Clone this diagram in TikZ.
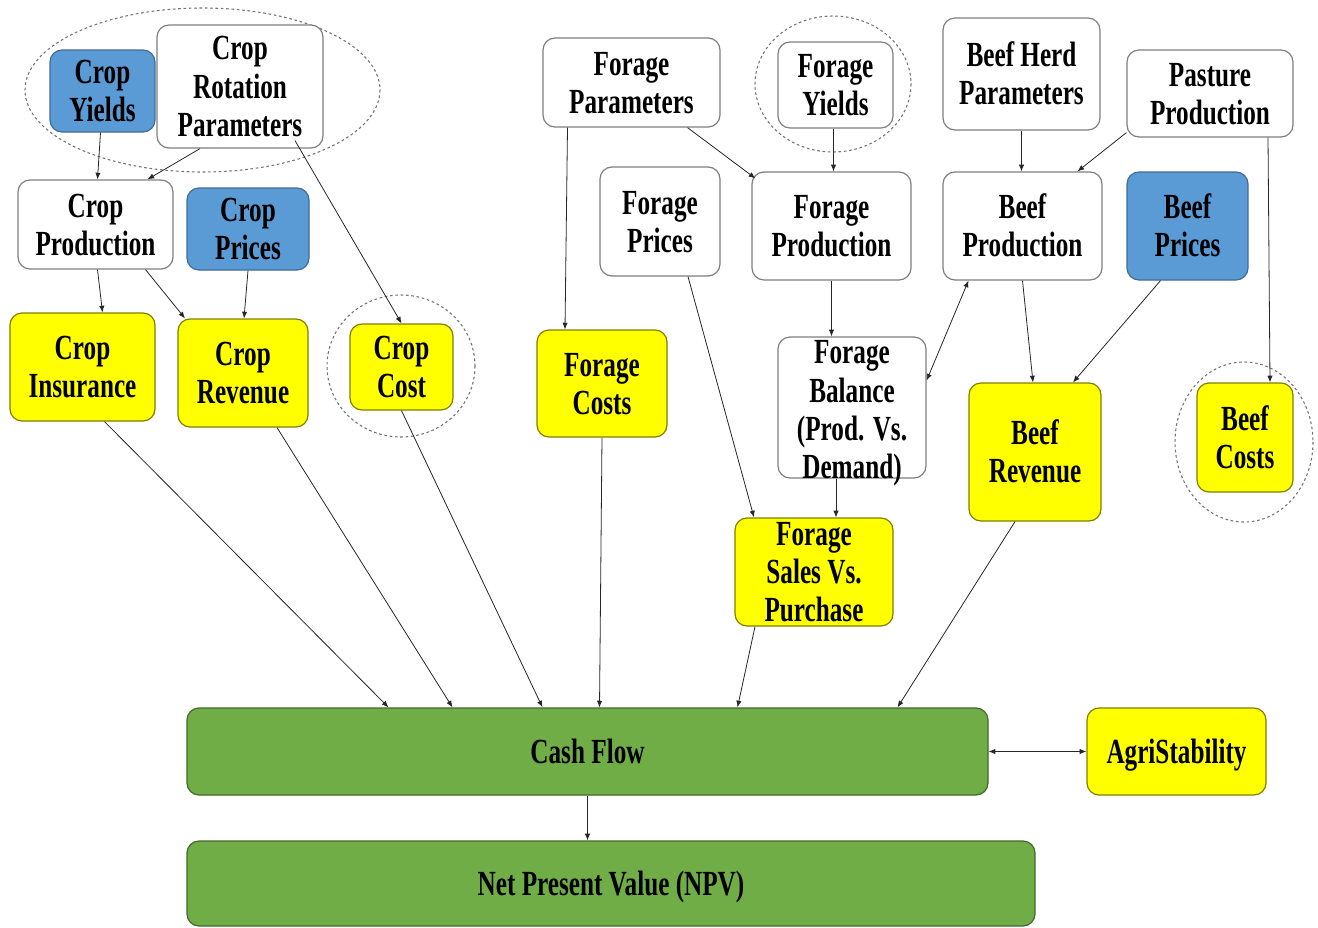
\documentclass[tikz,border=0pt]{standalone}
\usepackage{fontspec}
\setmainfont{Liberation Serif}
\usepackage{graphicx}
\usetikzlibrary{fit,arrows.meta}
\def\u{0.75pt}
\newcommand\tx[1]{\scalebox{1}[1.4]{\begin{tabular}{@{}c@{}}#1\end{tabular}}}
\definecolor{bluebox}{HTML}{5B9BD5}
\definecolor{yellowbox}{HTML}{FFFF00}
\definecolor{greenbox}{HTML}{70AD47}
\definecolor{edgegray}{HTML}{7F7F7F}
\begin{document}
\begin{tikzpicture}[x=0.75pt,y=-0.75pt,
  base/.style={draw=edgegray, line width=0.9pt, rounded corners=9pt, inner sep=0pt},
  wbox/.style={base, fill=white},
  bbox/.style={base, draw=bluebox!70!black, fill=bluebox},
  ybox/.style={base, draw=yellowbox!50!black, fill=yellowbox},
  gbox/.style={base, draw=greenbox!60!black, fill=greenbox},
  txt/.style={font=\bfseries\fontsize{18.9}{20.5}\selectfont, inner sep=0pt, text=black, yshift=-4*\u},
  arr/.style={-{Latex[length=5pt,width=4pt]}, line width=0.6pt, draw=black!85},
  darr/.style={{Latex[length=5pt,width=4pt]}-{Latex[length=5pt,width=4pt]}, line width=0.6pt, draw=black!85},
  ring/.style={draw=black!55, dashed, dash pattern=on 2pt off 2pt, line width=0.8pt}
]
\useasboundingbox (0,0) rectangle (1318,928);

% dashed groupings
\draw[ring] (202.5,90) ellipse [x radius=177.5, y radius=82];

% crop side
\node[bbox, fit={(50,50) (155,132)}] (cy) {};
\node[txt] (cyT) at (cy.center) {\tx{Crop\\Yields}};
\node[wbox, fit={(157,25) (323,148)}] (crp) {};
\node[txt] (crpT) at (crp.center) {\tx{Crop\\Rotation\\Parameters}};
\node[wbox, fit={(18,180) (173,269)}] (cp) {};
\node[txt] (cpT) at (cp.center) {\tx{Crop\\Production}};
\node[bbox, fit={(187,188) (309,270)}] (cpr) {};
\node[txt] (cprT) at (cpr.center) {\tx{Crop\\Prices}};
\node[ybox, fit={(10,313) (155,421)}] (ci) {};
\node[txt] (ciT) at (ci.center) {\tx{Crop\\Insurance}};
\node[ybox, fit={(178,319) (308,427)}] (cr) {};
\node[txt] (crT) at (cr.center) {\tx{Crop\\Revenue}};
\draw[ring] (401,366) ellipse [x radius=74, y radius=71];
\node[ybox, fit={(350,324) (453,410)}] (cc) {};
\node[txt] (ccT) at (cc.center) {\tx{Crop\\Cost}};

% forage side
\node[wbox, fit={(543,38) (720,127)}] (fp) {};
\node[txt] (fpT) at (fp.center) {\tx{Forage\\Parameters}};
\draw[ring] (833,84) ellipse [x radius=78, y radius=68];
\node[wbox, fit={(778,42) (893,128)}] (fy) {};
\node[txt] (fyT) at (fy.center) {\tx{Forage\\Yields}};
\node[wbox, fit={(600,167) (720,276)}] (fpri) {};
\node[txt] (fpriT) at (fpri.center) {\tx{Forage\\Prices}};
\node[wbox, fit={(752,172) (911,280)}] (fpr) {};
\node[txt] (fprT) at (fpr.center) {\tx{Forage\\Production}};
\node[ybox, fit={(537,330) (667,437)}] (fc) {};
\node[txt] (fcT) at (fc.center) {\tx{Forage\\Costs}};
\node[wbox, fit={(778,337) (926,478)}] (fb) {};
\node[txt] (fbT) at ([yshift=-2*\u]fb.center) {\tx{Forage\\Balance\\(Prod. Vs.\\Demand)}};
\node[ybox, fit={(735,518) (893,626)}] (fs) {};
\node[txt] (fsT) at (fs.center) {\tx{Forage\\Sales Vs.\\Purchase}};

% beef side
\node[wbox, fit={(943,18) (1100,130)}] (bh) {};
\node[txt] (bhT) at (bh.center) {\tx{Beef Herd\\Parameters}};
\node[wbox, fit={(1127,50) (1293,137)}] (pp) {};
\node[txt] (ppT) at (pp.center) {\tx{Pasture\\Production}};
\node[wbox, fit={(943,172) (1102,280)}] (bp) {};
\node[txt] (bpT) at (bp.center) {\tx{Beef\\Production}};
\node[bbox, fit={(1127,172) (1248,280)}] (bpr) {};
\node[txt] (bprT) at (bpr.center) {\tx{Beef\\Prices}};
\node[ybox, fit={(969,383) (1101,521)}] (br) {};
\node[txt] (brT) at (br.center) {\tx{Beef\\Revenue}};
\draw[ring] (1244,442) ellipse [x radius=69, y radius=80];
\node[ybox, fit={(1197,383) (1293,492)}] (bc) {};
\node[txt] (bcT) at (bc.center) {\tx{Beef\\Costs}};

% bottom
\node[gbox, fit={(187,708) (988,795)}] (cf) {};
\node[txt] (cfT) at (cf.center) {\tx{Cash Flow}};
\node[ybox, fit={(1087,708) (1266,795)}] (ag) {};
\node[txt] (agT) at (ag.center) {\tx{AgriStability}};
\node[gbox, fit={(187,841) (1035,926)}] (npv) {};
\node[txt] (npvT) at (npv.center) {\tx{Net Present Value (NPV)}};

% connectors: crop
\draw[arr] ([xshift=-2*\u]cy.south) -- ([xshift=2*\u]cp.north);
\draw[arr] ([xshift=-40*\u]crp.south) -- ([xshift=52*\u]cp.north);
\draw[arr] ([xshift=55*\u,yshift=8*\u]crp.south) -- (cc.north);
\draw[arr] ([xshift=2*\u]cp.south) -- ([xshift=20*\u]ci.north);
\draw[arr] ([xshift=50*\u]cp.south) -- ([xshift=-58*\u]cr.north);
\draw[arr] (cpr.south) -- ([xshift=1*\u]cr.north);
\draw[arr] ([xshift=22*\u]ci.south) -- ([xshift=-199*\u]cf.north);
\draw[arr] ([xshift=34*\u]cr.south) -- ([xshift=-135*\u]cf.north);
\draw[arr] (cc.south) -- ([xshift=-45*\u]cf.north);

% connectors: forage
\draw[arr] ([xshift=-64*\u]fp.south) -- ([xshift=-37*\u]fc.north);
\draw[arr] ([xshift=56*\u]fp.south) -- ([xshift=4*\u,yshift=-7*\u]fpr.north west);
\draw[arr] ([xshift=-2*\u]fy.south) -- ([xshift=-2*\u]fy.south |- fpr.north);
\draw[arr] ([xshift=28*\u]fpri.south) -- ([xshift=-60*\u]fs.north);
\draw[arr] (fpr.south) -- (fpr.south |- fb.north);
\draw[arr] ([xshift=-16*\u]fb.south) -- ([xshift=-16*\u]fb.south |- fs.north);
\draw[arr] (fc.south) -- ([xshift=12*\u]cf.north);
\draw[arr] ([xshift=-59*\u]fs.south) -- ([xshift=150*\u]cf.north);

% connectors: beef
\draw[arr] (bh.south) -- (bh.south |- bp.north);
\draw[arr] ([yshift=5*\u]pp.south west) -- ([xshift=55*\u]bp.north);
\draw[arr] ([xshift=58*\u]pp.south) -- ([xshift=25*\u]bc.north);
\draw[darr] ([xshift=-54*\u]bp.south) -- ([yshift=27*\u]fb.east);
\draw[arr] (bp.south) -- ([xshift=-2*\u]br.north);
\draw[arr] ([xshift=-27*\u]bpr.south) -- ([xshift=38*\u]br.north);
\draw[arr] ([xshift=-20*\u]br.south) -- ([xshift=310*\u]cf.north);

% bottom connectors
\draw[darr] (cf.east) -- (ag.west);
\draw[arr] (cf.south) -- (cf.south |- npv.north);
\end{tikzpicture}
\end{document}
